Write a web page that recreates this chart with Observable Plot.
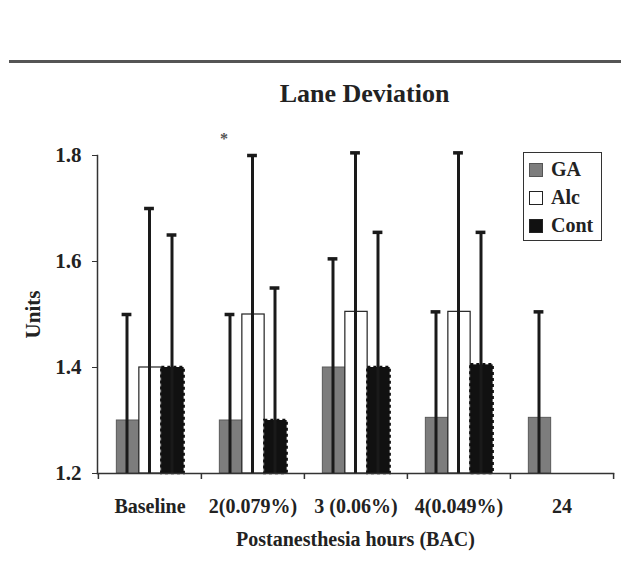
<!DOCTYPE html>
<html><head><meta charset="utf-8">
<script src="https://cdn.jsdelivr.net/npm/d3@7"></script>
<script src="https://cdn.jsdelivr.net/npm/@observablehq/plot@0.6"></script>
<style>
body{margin:0;background:#fff;}
#wrap{position:relative;width:624px;height:572px;font-family:"Liberation Serif","Times New Roman",serif;font-weight:bold;color:#222;}
#wrap svg{position:absolute;left:0;top:0;}
.hr{position:absolute;left:9px;top:60px;width:612px;height:3px;background:#555;}
.title{position:absolute;left:0;width:729px;top:81px;font-size:26px;line-height:26px;text-align:center;}
.legend{position:absolute;left:523px;top:152px;width:77px;height:87px;border:1.5px solid #333;background:#fff;}
.legend .sw{position:absolute;left:5px;width:14px;height:14px;box-sizing:border-box;}
.legend .lb{position:absolute;left:27px;font-size:20px;line-height:20px;}
</style></head><body><div id="wrap"></div>
<script>
const categories = ["Baseline", "2(0.079%)", "3 (0.06%)", "4(0.049%)", "24"];
const series = ["GA", "Alc", "Cont"];
const gaMean   = [1.30, 1.30, 1.40, 1.305, 1.305];
const gaUpper  = [1.50, 1.50, 1.605, 1.505, 1.505];
const alcMean  = [1.40, 1.50, 1.505, 1.505, null];
const alcUpper = [1.70, 1.80, 1.805, 1.805, null];
const contMean = [1.40, 1.30, 1.40, 1.405, null];
const contUpper= [1.65, 1.55, 1.655, 1.655, null];
const yTicks = [1.2, 1.4, 1.6, 1.8];
const yDomain = [1.2, 1.8];
const title = "Lane Deviation";
const xLabel = "Postanesthesia hours (BAC)";
const yLabel = "Units";
const starCategory = "2(0.079%)";

const means = {GA: gaMean, Alc: alcMean, Cont: contMean};
const uppers = {GA: gaUpper, Alc: alcUpper, Cont: contUpper};
const rows = [];
series.forEach(s => categories.forEach((c, i) => {
  if (means[s][i] != null) rows.push({cat: c, series: s, mean: means[s][i], upper: uppers[s][i]});
}));

const W = 624, H = 572, mL = 97, mR = 11, mT = 155, mB = 99;
const band = (W - mL - mR) / categories.length;
const barW = 22.5;
const offsets = {GA: -22, Alc: 0.5, Cont: 23};
const styles = {
  GA: {fill: "#7d7d7d", stroke: "#5a5a5a", strokeWidth: 1},
  Alc: {fill: "#ffffff", stroke: "#222", strokeWidth: 1.2},
  Cont: {fill: "#111", stroke: "#111", strokeWidth: 2.5, strokeDasharray: "3 3"}
};
const inset = (band - barW) / 2;
const capInset = (band - 10) / 2;

const marks = [];
series.forEach(s => {
  marks.push(Plot.barY(rows.filter(d => d.series === s), {
    x: "cat", y1: yDomain[0], y2: "mean", dx: offsets[s],
    insetLeft: inset, insetRight: inset, ...styles[s]
  }));
});
series.forEach(s => {
  const data = rows.filter(d => d.series === s);
  marks.push(Plot.ruleX(data, {x: "cat", y1: yDomain[0], y2: "upper", dx: offsets[s] - 1, stroke: "#1a1a1a", strokeWidth: 3}));
  marks.push(Plot.tickY(data, {x: "cat", y: "upper", dx: offsets[s] - 1, insetLeft: capInset, insetRight: capInset, stroke: "#1a1a1a", strokeWidth: 3.5}));
});
// axis boundary ticks
marks.push(Plot.ruleX(categories, {x: d => d, dx: -band / 2, y1: yDomain[0], y2: yDomain[0], insetBottom: -6, stroke: "#333", strokeWidth: 1.5}));
marks.push(Plot.ruleX(categories.slice(-1), {x: d => d, dx: band / 2, y1: yDomain[0], y2: yDomain[0], insetBottom: -6, stroke: "#333", strokeWidth: 1.5}));
marks.push(Plot.frame({anchor: "left", stroke: "#333", strokeWidth: 1.5}));
marks.push(Plot.frame({anchor: "bottom", stroke: "#333", strokeWidth: 1.5}));
marks.push(Plot.axisY({ticks: yTicks, tickFormat: d3.format(".1f"), tickSize: 5, tickPadding: 11, fontSize: 21, fontWeight: "bold", stroke: "#333",
  label: yLabel, labelAnchor: "center", labelArrow: "none", labelOffset: 72}));
marks.push(Plot.axisX({tickSize: 0, tickPadding: 25, fontSize: 20, fontWeight: "bold",
  label: xLabel, labelAnchor: "center", labelArrow: "none", labelOffset: 72}));
marks.push(Plot.text([starCategory], {x: d => d, y: yDomain[1], text: () => "*", dx: -29, dy: -17, fontSize: 16, fill: "#555"}));

const chart = Plot.plot({
  width: W, height: H, marginLeft: mL, marginRight: mR, marginTop: mT, marginBottom: mB,
  style: {fontFamily: '"Liberation Serif", "Times New Roman", serif', color: "#222", background: "transparent"},
  x: {domain: categories, padding: 0, label: null},
  y: {domain: yDomain, label: null},
  marks
});

const wrap = document.getElementById("wrap");
wrap.appendChild(chart);
const hr = document.createElement("div"); hr.className = "hr"; wrap.appendChild(hr);
const t = document.createElement("div"); t.className = "title"; t.textContent = title; wrap.appendChild(t);
const lg = document.createElement("div"); lg.className = "legend";
series.forEach((s, i) => {
  const sw = document.createElement("div"); sw.className = "sw";
  sw.style.top = (10 + 28 * i) + "px";
  sw.style.background = styles[s].fill;
  sw.style.border = "1.2px solid " + (s === "GA" ? "#555" : "#222");
  const lb = document.createElement("div"); lb.className = "lb";
  lb.style.top = (6 + 28 * i) + "px";
  lb.textContent = s;
  lg.appendChild(sw); lg.appendChild(lb);
});
wrap.appendChild(lg);
</script></body></html>
